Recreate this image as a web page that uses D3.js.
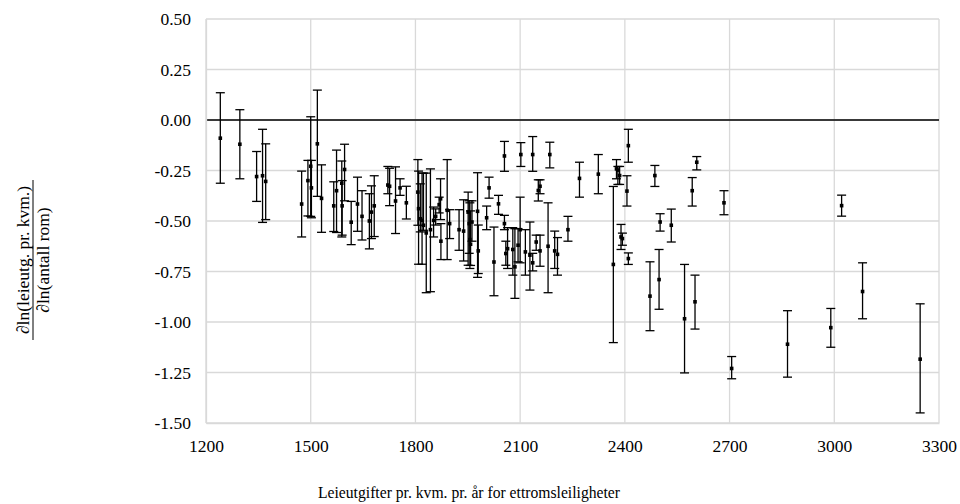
<!DOCTYPE html>
<html>
<head>
<meta charset="utf-8">
<script src="https://cdn.jsdelivr.net/npm/d3@7"></script>
<style>
  html, body { margin: 0; padding: 0; background: #ffffff; }
  svg { display: block; }
  text { font-family: "Liberation Serif", "Times New Roman", serif; fill: #000; }
</style>
</head>
<body>
<svg id="chart" width="960" height="504"></svg>
<script>
// ---- data (x = rent per m2 per year, y = estimate, yHi/yLo = error bar ends) ----
const xs = [1241,1297,1345,1362,1371,1474,1492,1500,1502,1519,1531,1566,1574,1589,1590,1597,
  1616,1634,1647,1668,1674,1682,1721,1726,1743,1756,1774,1807,1809,1814,1819,1823,1831,1843,1852,1858,1868,1872,1873,
  1891,1898,1925,1938,1951,1954,1956,1958,1962,1978,1980,2004,2011,2025,2038,2055,2055,2059,2064,2079,2085,2094,2100,
  2102,2115,2128,2136,2136,2146,2152,2157,2157,2180,2185,2199,2207,2237,2270,2324,2367,2376,2380,2385,2389,2393,
  2406,2410,2410,2472,2486,2498,2501,2533,2571,2593,2601,2606,2684,2706,2866,2990,3021,3081,3246];
const ys = [-0.09,-0.12,-0.28,-0.276,-0.304,-0.416,-0.300,-0.229,-0.336,-0.118,-0.388,-0.425,-0.350,-0.313,-0.425,-0.245,
  -0.506,-0.416,-0.477,-0.500,-0.456,-0.425,-0.322,-0.328,-0.401,-0.336,-0.410,-0.357,-0.439,-0.489,-0.497,-0.521,-0.559,-0.543,-0.497,-0.477,-0.419,-0.390,-0.600,
  -0.447,-0.513,-0.543,-0.550,-0.456,-0.513,-0.592,-0.615,-0.505,-0.452,-0.648,-0.484,-0.336,-0.703,-0.415,-0.178,-0.513,-0.661,-0.637,-0.641,-0.727,-0.620,-0.543,
  -0.171,-0.653,-0.669,-0.171,-0.707,-0.604,-0.349,-0.328,-0.648,-0.625,-0.171,-0.648,-0.665,-0.543,-0.289,-0.268,-0.715,-0.242,-0.248,-0.275,-0.579,-0.587,
  -0.352,-0.127,-0.686,-0.872,-0.275,-0.790,-0.505,-0.521,-0.984,-0.350,-0.900,-0.209,-0.410,-1.230,-1.110,-1.028,-0.424,-0.849,-1.184];
const yHi = [0.135,0.051,-0.156,-0.046,-0.118,-0.253,-0.200,0.016,-0.200,0.148,-0.222,-0.306,-0.149,-0.203,-0.300,-0.120,
  -0.403,-0.283,-0.350,-0.365,-0.326,-0.276,-0.230,-0.239,-0.232,-0.291,-0.328,-0.196,-0.253,-0.316,-0.263,-0.263,-0.263,-0.242,-0.431,-0.440,-0.382,-0.291,-0.513,
  -0.196,-0.444,-0.444,-0.395,-0.357,-0.400,-0.410,-0.450,-0.400,-0.261,-0.520,-0.426,-0.283,-0.530,-0.373,-0.106,-0.472,-0.600,-0.533,-0.533,-0.538,-0.538,-0.382,
  -0.112,-0.543,-0.505,-0.082,-0.660,-0.570,-0.296,-0.296,-0.570,-0.410,-0.110,-0.550,-0.582,-0.477,-0.209,-0.171,-0.329,-0.196,-0.230,-0.230,-0.517,-0.560,
  -0.276,-0.046,-0.658,-0.702,-0.225,-0.641,-0.464,-0.441,-0.715,-0.285,-0.768,-0.181,-0.350,-1.171,-0.944,-0.933,-0.372,-0.707,-0.910];
const yLo = [-0.313,-0.291,-0.403,-0.507,-0.493,-0.579,-0.475,-0.477,-0.484,-0.378,-0.556,-0.552,-0.557,-0.579,-0.570,-0.400,
  -0.617,-0.551,-0.594,-0.638,-0.587,-0.577,-0.365,-0.424,-0.562,-0.373,-0.490,-0.521,-0.714,-0.554,-0.714,-0.546,-0.855,-0.850,-0.579,-0.520,-0.460,-0.493,-0.691,
  -0.691,-0.587,-0.645,-0.698,-0.719,-0.660,-0.735,-0.720,-0.600,-0.779,-0.760,-0.543,-0.387,-0.870,-0.467,-0.254,-0.543,-0.719,-0.735,-0.768,-0.883,-0.702,-0.707,
  -0.230,-0.768,-0.842,-0.254,-0.747,-0.645,-0.401,-0.365,-0.724,-0.855,-0.237,-0.735,-0.768,-0.600,-0.382,-0.365,-1.102,-0.291,-0.319,-0.319,-0.641,-0.620,
  -0.426,-0.209,-0.715,-1.043,-0.329,-0.937,-0.550,-0.604,-1.252,-0.426,-1.035,-0.247,-0.469,-1.281,-1.273,-1.125,-0.476,-0.984,-1.450];

const xTicks = [1200,1500,1800,2100,2400,2700,3000,3300];
const yTicks = [0.5,0.25,0,-0.25,-0.5,-0.75,-1,-1.25,-1.5];
const yTickLabels = ["0.50","0.25","0.00","-0.25","-0.50","-0.75","-1.00","-1.25","-1.50"];
const xTitle = "Leieutgifter pr. kvm. pr. år for ettromsleiligheter";
const yTitleNum = "∂ln(leieutg. pr. kvm.)";
const yTitleDen = "∂ln(antall rom)";

const points = xs.map((x, i) => ({x, y: ys[i], hi: yHi[i], lo: yLo[i]}));

// ---- layout ----
const svg = d3.select("#chart");
const pLeft = 206, pRight = 939, pTop = 19, pBottom = 423;
const x = d3.scaleLinear().domain([1200, 3300]).range([pLeft, pRight]);
const y = d3.scaleLinear().domain([-1.5, 0.5]).range([pBottom, pTop]);
const fs = 17.5;
const fontFam = '"Liberation Serif", "Times New Roman", serif';

// gridlines
const grid = svg.append("g");
grid.selectAll("line.h").data(yTicks).join("line")
  .attr("x1", pLeft).attr("x2", pRight)
  .attr("y1", d => y(d)).attr("y2", d => y(d))
  .attr("stroke", "#d9d9d9").attr("stroke-width", 1.3);
grid.selectAll("line.v").data(xTicks).join("line")
  .attr("y1", pTop).attr("y2", pBottom)
  .attr("x1", d => x(d)).attr("x2", d => x(d))
  .attr("stroke", "#d9d9d9").attr("stroke-width", 1.3);

// zero line
svg.append("line")
  .attr("x1", pLeft).attr("x2", pRight)
  .attr("y1", y(0)).attr("y2", y(0))
  .attr("stroke", "#000").attr("stroke-width", 1.5);

// axes (labels only; tick marks hidden)
const xAxis = d3.axisBottom(x).tickValues(xTicks).tickSize(0).tickPadding(17).tickFormat(d3.format("d"));
const gx = svg.append("g").attr("transform", `translate(0,${pBottom})`).call(xAxis);
gx.attr("font-family", null).attr("font-size", null);
gx.select(".domain").attr("stroke", "#d9d9d9").attr("stroke-width", 1.3);
gx.selectAll("text").style("font-family", fontFam).style("font-size", fs + "px").attr("fill", "#000");

const yAxis = d3.axisLeft(y).tickValues(yTicks).tickSize(0).tickPadding(15)
  .tickFormat((d, i) => yTickLabels[i]);
const gy = svg.append("g").attr("transform", `translate(${pLeft},0)`).call(yAxis);
gy.attr("font-family", null).attr("font-size", null);
gy.select(".domain").attr("stroke", "#d9d9d9").attr("stroke-width", 1.3);
gy.selectAll("text").style("font-family", fontFam).style("font-size", fs + "px").attr("fill", "#000");

// error bars
const capW = 4.5;
const eb = svg.append("g").attr("stroke", "#000").attr("stroke-width", 1.3);
eb.selectAll("line.stem").data(points).join("line")
  .attr("x1", d => x(d.x)).attr("x2", d => x(d.x))
  .attr("y1", d => y(d.hi)).attr("y2", d => y(d.lo));
eb.selectAll("line.capt").data(points).join("line")
  .attr("x1", d => x(d.x) - capW).attr("x2", d => x(d.x) + capW)
  .attr("y1", d => y(d.hi)).attr("y2", d => y(d.hi));
eb.selectAll("line.capb").data(points).join("line")
  .attr("x1", d => x(d.x) - capW).attr("x2", d => x(d.x) + capW)
  .attr("y1", d => y(d.lo)).attr("y2", d => y(d.lo));

// markers
const ms = 3.6;
svg.append("g").selectAll("rect").data(points).join("rect")
  .attr("x", d => x(d.x) - ms / 2).attr("y", d => y(d.y) - ms / 2)
  .attr("width", ms).attr("height", ms).attr("fill", "#000");

// x title (condensed, as in the original)
svg.append("text")
  .attr("x", 318).attr("y", 498)
  .attr("text-anchor", "start")
  .attr("textLength", 302).attr("lengthAdjust", "spacingAndGlyphs")
  .style("font-family", fontFam)
  .style("font-size", fs + "px")
  .text(xTitle);

// y title (fraction, rotated)
const yt = svg.append("g").attr("transform", "translate(0,260) rotate(-90)");
yt.append("text").attr("x", 0).attr("y", 29).attr("text-anchor", "middle")
  .style("font-family", fontFam).style("font-size", fs + "px").text(yTitleNum);
yt.append("line").attr("x1", -80).attr("x2", 80).attr("y1", 33).attr("y2", 33)
  .attr("stroke", "#000").attr("stroke-width", 1);
yt.append("text").attr("x", 0).attr("y", 49).attr("text-anchor", "middle")
  .style("font-family", fontFam).style("font-size", fs + "px").text(yTitleDen);
</script>
</body>
</html>
